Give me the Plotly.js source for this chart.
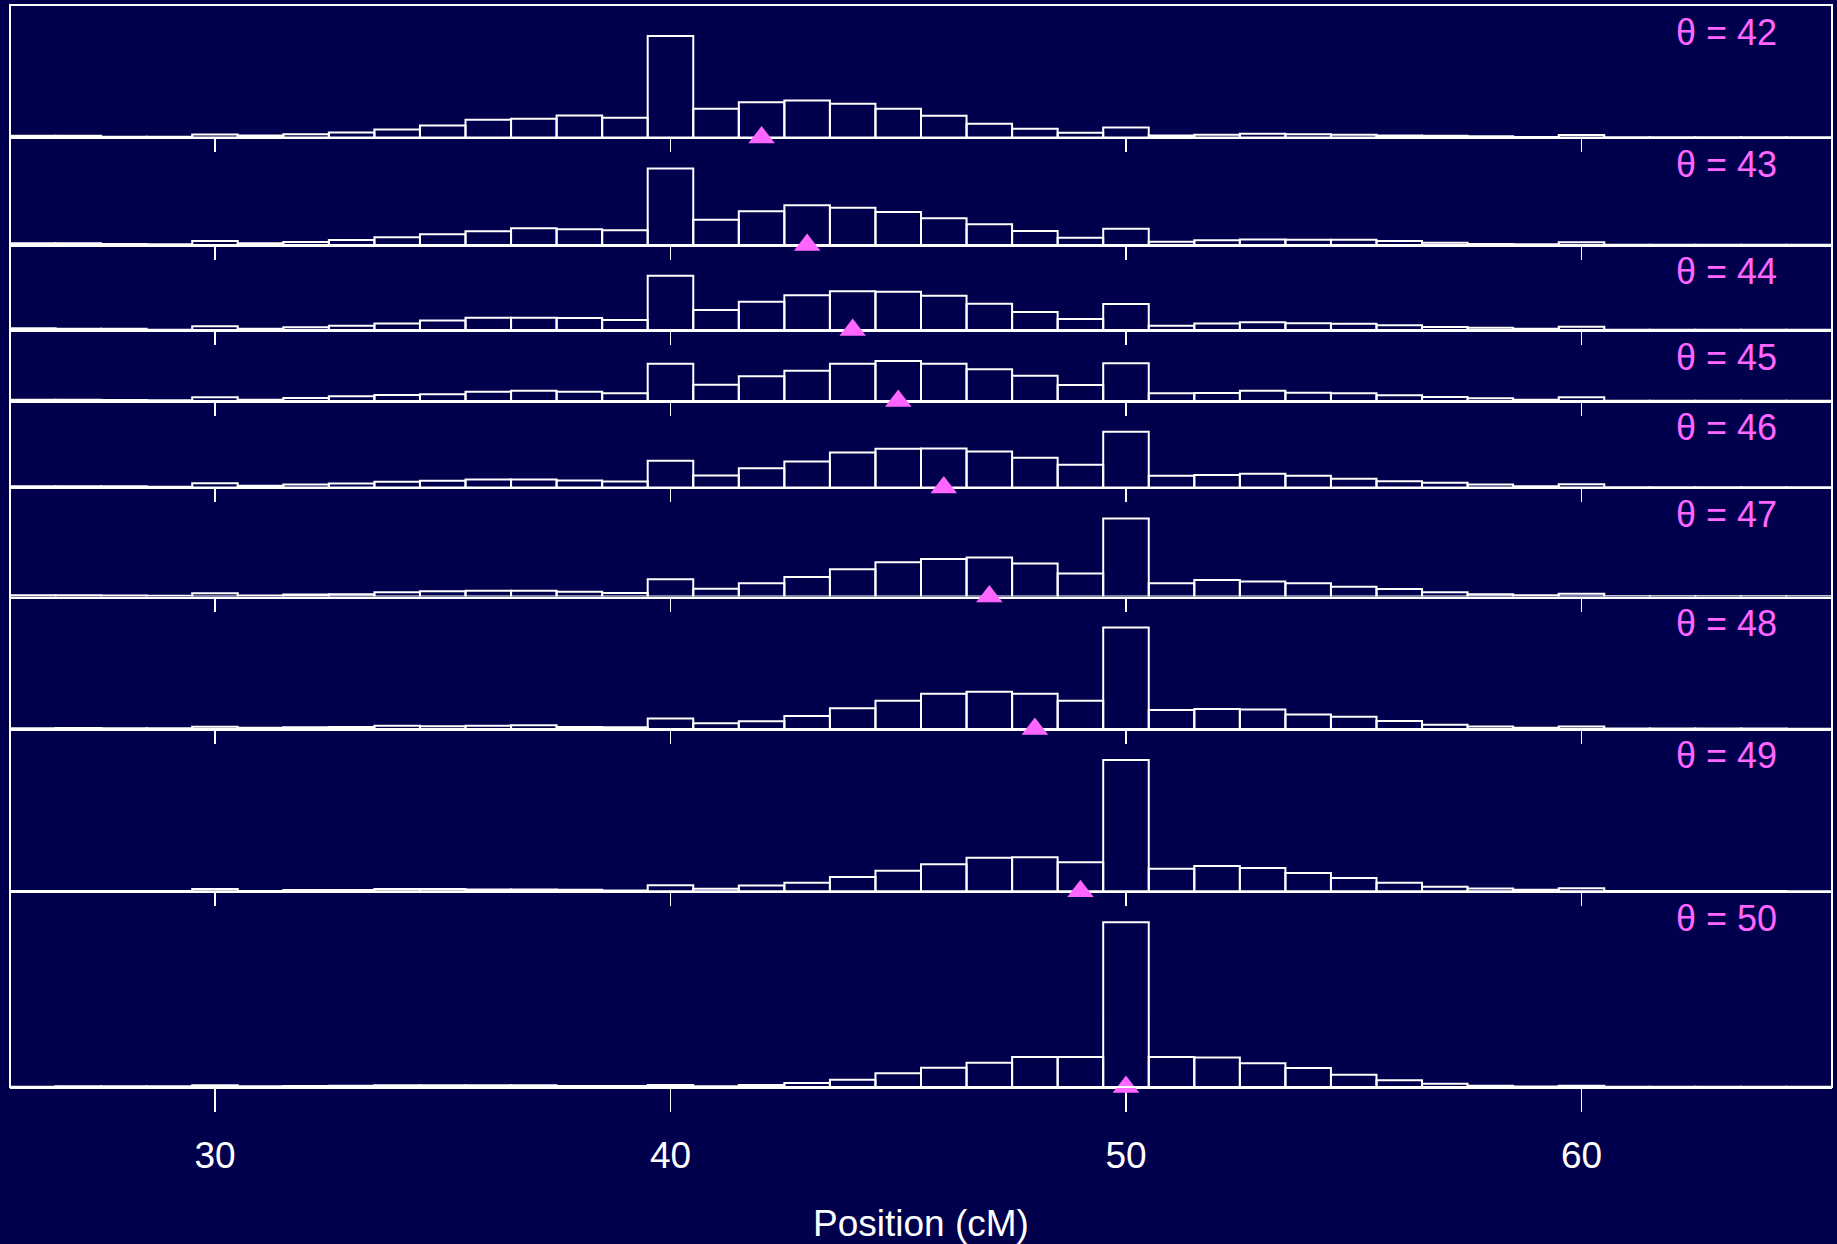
<!DOCTYPE html>
<html>
<head>
<meta charset="utf-8">
<script src="https://cdn.plot.ly/plotly-3.0.1.min.js"></script>
<style>
html,body{margin:0;padding:0;background:#01004d;}
#chart{width:1837px;height:1244px;}
</style>
</head>
<body>
<div id="chart"></div>
<script>
// Bin centres (cM), 1 cM wide bins
const positions = [26,27,28,29,30,31,32,33,34,35,36,37,38,39,40,41,42,43,44,45,
                   46,47,48,49,50,51,52,53,54,55,56,57,58,59,60,61,62,63,64,65];
// True QTL position for each panel
const thetas = [42,43,44,45,46,47,48,49,50];

// Histogram heights (arbitrary frequency units) for each theta
const freq42 = [1.7,1.7,0.8,0.8,3,2,3.3,5,8,12,17.7,18.7,22,19.7,101.7,28.7,35.3,37,33.7,28.7,
                21.7,13.7,8.7,4.7,10,2,2.7,3.7,3.3,2.7,2,1.7,1.3,0.5,2.5,0.3,0.3,0.3,0.3,0.2];
const freq43 = [1.7,1.7,1,0.7,4,1.7,3,5,7.7,10.7,13.7,16.7,15.7,14.7,76.7,25.3,33.7,39.7,37.3,33,
                26.7,20.7,14,7.3,16.3,3.3,4.7,5.5,5.3,5.3,4,2.3,1,0.7,2.7,0.3,0.3,0.3,0.3,0.2];
const freq44 = [1.7,1.3,1.3,0.3,3.7,1.3,2.7,4.3,6.7,9.7,12.3,12.3,12,10,54.3,20,28.3,35,39,38.3,
                34.3,26.3,18,11,26,4.3,6.5,7.8,6.8,6.3,4.7,3,2.3,1.3,3.3,0.3,0.3,0.3,0.3,0.2];
const freq45 = [1.3,1.3,1,0.7,3.7,1.3,3,4.7,6,6.7,9.3,10.3,9.3,7.7,37.3,16.3,24.7,30.3,37.3,40,
                37.3,31.7,25.3,16,37.7,7.7,8,10.3,8.3,7.7,5.7,4,2.7,1.3,3.7,0.3,0.3,0.3,0.3,0.2];
const freq46 = [1.3,1.3,1.3,0.7,4.3,1.7,3,4,5.7,6.7,8,8,7,6,26.7,12,19.3,26,35,38.7,
                39,36,29.7,22.7,55.7,11.7,12.5,13.7,11.7,8.7,6.3,4.7,3,1.3,3.3,0.3,0.3,0.3,0.3,0.2];
const freq47 = [1.3,1.3,1,0.7,3.3,1,2,2.3,4.3,5.3,5.7,5.7,4.7,3.5,17.3,7.7,13.3,19.7,27.3,34.3,
                37.7,39,33,23,78.3,13.3,16.5,15.2,13.2,9.9,7.5,4.3,2.4,1.2,2.8,0.4,0.4,0.4,0.4,0.2];
const freq48 = [0.7,1,0.7,0.7,2.3,1.3,1.7,2,3.3,2.7,3.3,3.7,2,1.7,10.5,5.7,7.7,13,20.7,28.3,
                35.3,37.3,35.3,28.3,101.7,19,20,19.5,14.5,12.3,7.9,4.3,2.4,1.2,2.4,0.4,0.4,0.4,0.4,0.2];
const freq49 = [0.3,0.3,0.3,0.3,2.3,0.3,1.3,1.3,2.3,2.3,2,2,1.7,1,6.2,2.7,6,8.7,14.3,20.7,
                27.3,33.7,34.3,29.3,131.7,22.7,25.5,23.5,18.3,13.4,8.7,4.7,2.8,1.6,3.2,0.4,0.4,0.4,0.4,0.2];
const freq50 = [0.3,0.7,0.7,0.7,1.7,0.7,1,1.3,1.7,1.7,1.7,1.7,1,1,2,0.7,2,4,7.3,13.7,
                19.3,24.3,30,30,165,30,29.6,23.8,19,12.3,6.7,3.2,1.2,0.4,1.2,0.2,0.2,0.2,0.2,0.2];

const tickVals = [30,40,50,60];
const tickText = ['30','40','50','60'];
const xTitle = 'Position (cM)';

const series = [freq42,freq43,freq44,freq45,freq46,freq47,freq48,freq49,freq50];

// ---- styling / layout ----
const BG = '#01004d', FG = '#ffffff', PINK = '#ff66ff';
const FONT = 'Liberation Sans, Arial, Helvetica, sans-serif';
const HEAD = 31;                      // head-room above tallest bar (same units as data)
const nPanels = series.length;
const spans = series.map(s => Math.max(...s) + HEAD);
const totalSpan = spans.reduce((a, b) => a + b, 0);

const traces = [];
const annotations = [];
const layout = {
  width: 1837, height: 1244,
  margin: {l: 10, r: 5, t: 5, b: 157},
  paper_bgcolor: BG, plot_bgcolor: 'rgba(0,0,0,0)',
  showlegend: false, hovermode: false,
  font: {family: FONT, color: FG},
  shapes: [{type: 'rect', xref: 'paper', yref: 'paper', x0: 0, x1: 1, y0: 0, y1: 1,
            line: {color: FG, width: 2}, layer: 'above'}]
};

let domTop = 1;
series.forEach((s, i) => {
  const k = i + 1;
  const sfx = k === 1 ? '' : String(k);
  const xa = 'x' + sfx, ya = 'y' + sfx;
  const last = i === nPanels - 1;
  const domBottom = last ? 0 : domTop - spans[i] / totalSpan;

  traces.push({
    type: 'bar', x: positions, y: s, width: 1, xaxis: xa, yaxis: ya,
    marker: {color: 'rgba(0,0,0,0)', line: {color: FG, width: 2}},
    hoverinfo: 'skip'
  });
  traces.push({
    type: 'scatter', mode: 'markers', x: [thetas[i]], y: [0], xaxis: xa, yaxis: ya,
    marker: {symbol: 'triangle-up', size: 23, color: PINK, line: {width: 0}},
    cliponaxis: false, hoverinfo: 'skip'
  });

  const xaxis = {
    domain: [0, 1], range: [25.5, 65.5], anchor: ya,
    showgrid: false, zeroline: false,
    showline: true, linecolor: FG, linewidth: 2,
    ticks: 'outside', ticklen: last ? 23 : 13, tickwidth: 1.5, tickcolor: FG,
    tickmode: 'array', tickvals: tickVals, ticktext: tickText,
    showticklabels: last, layer: 'below traces', fixedrange: true,
    tickfont: {family: FONT, size: 37, color: FG}
  };
  if (last) {
    xaxis.ticklabelstandoff = 12;
    xaxis.title = {text: xTitle, font: {family: FONT, size: 37, color: FG}, standoff: 48};
  }
  layout['xaxis' + sfx] = xaxis;
  layout['yaxis' + sfx] = {
    domain: [domBottom, domTop], range: [0, spans[i]], anchor: xa,
    showgrid: false, zeroline: false, showline: false,
    showticklabels: false, ticks: '', fixedrange: true
  };
  annotations.push({
    xref: 'paper', x: 1, xshift: -53, xanchor: 'right',
    yref: ya + ' domain', y: 1, yshift: -27, yanchor: 'middle',
    text: '\u03b8 = ' + thetas[i], showarrow: false,
    font: {family: FONT, size: 36, color: PINK}
  });
  domTop = domBottom;
});
layout.annotations = annotations;

Plotly.newPlot('chart', traces, layout, {staticPlot: true, displayModeBar: false});
</script>
</body>
</html>
